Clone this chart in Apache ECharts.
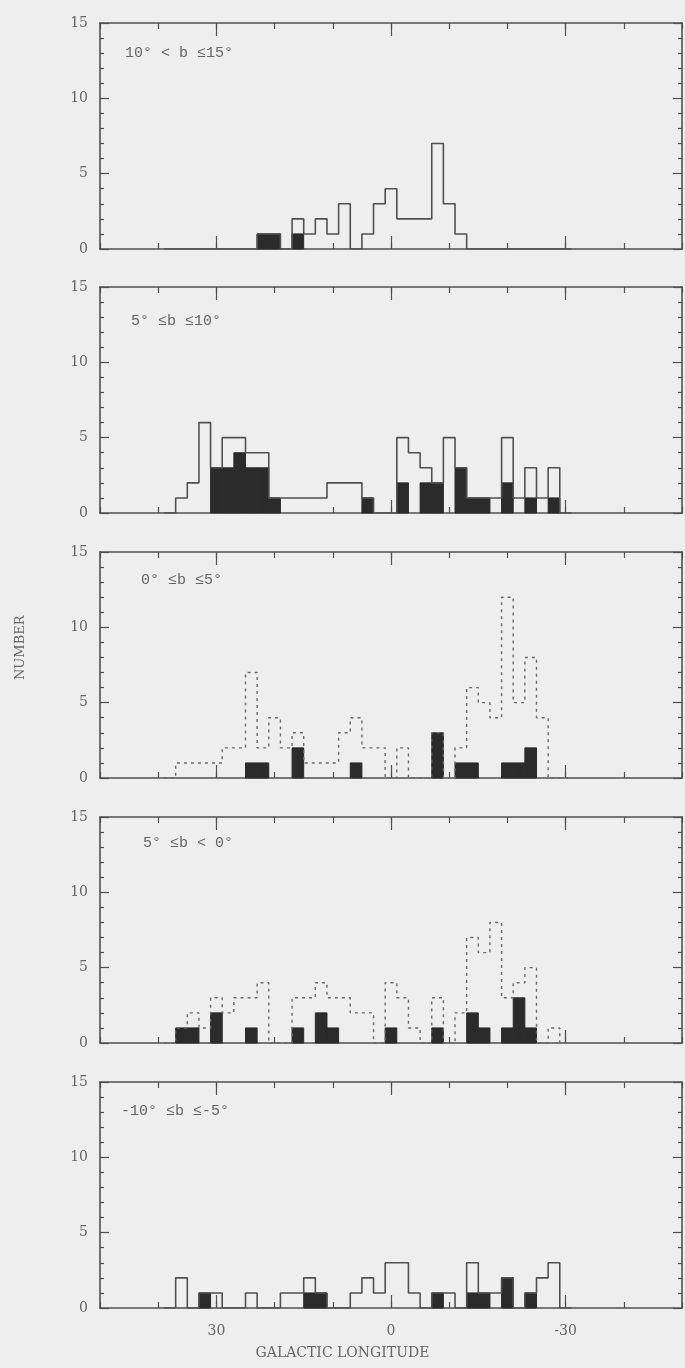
<!DOCTYPE html>
<html><head><meta charset="utf-8">
<script src="https://cdn.jsdelivr.net/npm/echarts@6/dist/echarts.min.js"></script>
<style>html,body{margin:0;padding:0;background:#eeeeee}#c{width:685px;height:1368px}</style>
</head><body><div id="c"></div><script>
// Galactic longitude bin centres (2 degree bins)
const binCenters = [38,36,34,32,30,28,26,24,22,20,18,16,14,12,10,8,6,4,2,0,-2,-4,-6,-8,-10,-12,-14,-16,-18,-20,-22,-24,-26,-28,-30];
const BIN_WIDTH = 2;

// Panel 1: 10 < b <= 15
const p1Total  = [0,0,0,0,0,0,0,0,1,1,0,2,1,2,1,3,0,1,3,4,2,2,2,7,3,1,0,0,0,0,0,0,0,0,0];
const p1Filled = [0,0,0,0,0,0,0,0,1,1,0,1,0,0,0,0,0,0,0,0,0,0,0,0,0,0,0,0,0,0,0,0,0,0,0];
// Panel 2: 5 <= b <= 10
const p2Total  = [0,1,2,6,3,5,5,4,4,1,1,1,1,1,2,2,2,1,0,0,5,4,3,2,5,3,1,1,1,5,1,3,1,3,0];
const p2Filled = [0,0,0,0,3,3,4,3,3,1,0,0,0,0,0,0,0,1,0,0,2,0,2,2,0,3,1,1,0,2,0,1,0,1,0];
// Panel 3: 0 <= b <= 5
const p3Total  = [0,1,1,1,1,2,2,7,2,4,2,3,1,1,1,3,4,2,2,0,2,0,0,3,0,2,6,5,4,12,5,8,4,0,0];
const p3Filled = [0,0,0,0,0,0,0,1,1,0,0,2,0,0,0,0,1,0,0,0,0,0,0,3,0,1,1,0,0,1,1,2,0,0,0];
// Panel 4: -5 <= b < 0
const p4Total  = [0,1,2,1,3,2,3,3,4,0,0,3,3,4,3,3,2,2,0,4,3,1,0,3,0,2,7,6,8,3,4,5,0,1,0];
const p4Filled = [0,1,1,0,2,0,0,1,0,0,0,1,0,2,1,0,0,0,0,1,0,0,0,1,0,0,2,1,0,1,3,1,0,0,0];
// Panel 5: -10 <= b <= -5
const p5Total  = [0,2,0,1,1,0,0,1,0,0,1,1,2,1,0,0,1,2,1,3,3,1,0,1,1,0,3,1,1,2,0,1,2,3,0];
const p5Filled = [0,0,0,1,0,0,0,0,0,0,0,0,1,1,0,0,0,0,0,0,0,0,0,1,0,0,1,1,0,2,0,1,0,0,0];

const panelLabels = ['10° < b ≤15°', '5° ≤b ≤10°', '0° ≤b ≤5°', '5° ≤b < 0°', '-10° ≤b ≤-5°'];
const xTickLabels = [30, 0, -30];
const yLabels = [0, 5, 10, 15];

const totals = [p1Total, p2Total, p3Total, p4Total, p5Total];
const filleds = [p1Filled, p2Filled, p3Filled, p4Filled, p5Filled];
const dotted = [false, false, true, true, false];

const gridTops = [23, 287, 552, 817, 1082];
const GRID_H = 226, GRID_L = 100, GRID_W = 582;
const LINE = '#505050', TXT = '#666666', FILL = '#2b2b2b';
const labelPos = [[125,55],[131,323],[141,582],[143,845],[121,1113]];

function stepPoints(total){
  const pts = [];
  const h = BIN_WIDTH/2;
  pts.push([binCenters[0]+h, 0]);
  for (let i=0;i<binCenters.length;i++){
    pts.push([binCenters[i]+h, total[i]]);
    pts.push([binCenters[i]-h, total[i]]);
  }
  pts.push([binCenters[binCenters.length-1]-h, 0]);
  return pts;
}

const grids=[], xAxes=[], yAxes=[], series=[], graphics=[];
for (let i=0;i<5;i++){
  grids.push({left:GRID_L, top:gridTops[i], width:GRID_W, height:GRID_H});
  const baseX = {gridIndex:i, type:'value', min:-50, max:50, inverse:true, splitLine:{show:false}};
  xAxes.push(Object.assign({}, baseX, {position:'bottom', interval:10,
    axisLine:{show:true, onZero:false, lineStyle:{color:LINE, width:1.6}},
    axisTick:{show:true, inside:true, length:6, lineStyle:{color:LINE, width:1.2}},
    axisLabel:{show:false}}));
  xAxes.push(Object.assign({}, baseX, {position:'top', interval:10,
    axisLine:{show:true, onZero:false, lineStyle:{color:LINE, width:1.6}},
    axisTick:{show:true, inside:true, length:6, lineStyle:{color:LINE, width:1.2}},
    axisLabel:{show:false}}));
  xAxes.push(Object.assign({}, baseX, {position:'bottom',
    axisLine:{show:false, onZero:false},
    axisTick:{show:true, inside:true, length:13, customValues:xTickLabels, lineStyle:{color:LINE, width:1.2}},
    axisLabel:{show:i===4, customValues:xTickLabels, margin:16, color:TXT, fontSize:14, fontFamily:'DejaVu Serif'}}));
  xAxes.push(Object.assign({}, baseX, {position:'top',
    axisLine:{show:false, onZero:false},
    axisTick:{show:true, inside:true, length:13, customValues:xTickLabels, lineStyle:{color:LINE, width:1.2}},
    axisLabel:{show:false}}));
  const baseY = {gridIndex:i, type:'value', min:0, max:15, interval:5, splitLine:{show:false},
    axisLine:{show:true, onZero:false, lineStyle:{color:LINE, width:1.6}},
    axisTick:{show:true, inside:true, length:9, lineStyle:{color:LINE, width:1.2}},
    minorTick:{show:true, splitNumber:5, length:4, lineStyle:{color:LINE, width:1.2}}};
  yAxes.push(Object.assign({}, baseY, {position:'left',
    axisLabel:{show:true, margin:12, color:TXT, fontSize:14, fontFamily:'DejaVu Serif', customValues:yLabels}}));
  yAxes.push(Object.assign({}, baseY, {position:'right', axisLabel:{show:false}}));

  const filled = filleds[i];
  series.push({
    type:'custom', xAxisIndex:4*i, yAxisIndex:2*i, z:2, silent:true,
    data: binCenters.map((c,k)=>[c, filled[k]]).filter(d=>d[1]>0),
    renderItem:function(params, api){
      const c = api.value(0), v = api.value(1);
      const a = api.coord([c+BIN_WIDTH/2, 0]);
      const b = api.coord([c-BIN_WIDTH/2, v]);
      return {type:'rect', shape:{x:Math.min(a[0],b[0]), y:b[1], width:Math.abs(b[0]-a[0]), height:a[1]-b[1]},
        style:{fill:FILL, stroke:FILL, lineWidth:1}};
    }
  });
  series.push({
    type:'line', xAxisIndex:4*i, yAxisIndex:2*i, z:3, silent:true,
    data: stepPoints(totals[i]), symbol:'none',
    lineStyle:{color: dotted[i] ? '#6a6a6a' : LINE, width: dotted[i] ? 1.4 : 1.6, type: dotted[i] ? [3,4] : 'solid'}
  });
  graphics.push({type:'text', left:labelPos[i][0], top:labelPos[i][1]-9,
    style:{text:panelLabels[i], fill:TXT, font:'15px "Liberation Mono"'}});
}
graphics.push({type:'text', left:'center', top:1346,
  style:{text:'GALACTIC LONGITUDE', fill:TXT, font:'14px "DejaVu Serif"'}});
graphics.push({type:'text', rotation:Math.PI/2, x:14, y:680,
  style:{text:'NUMBER', fill:TXT, font:'13px "DejaVu Serif"'}});

const chart = echarts.init(document.getElementById('c'), null, {renderer:'canvas'});
chart.setOption({
  backgroundColor:'#eeeeee', animation:false,
  grid:grids, xAxis:xAxes, yAxis:yAxes, series:series, graphic:graphics
});
</script></body></html>
